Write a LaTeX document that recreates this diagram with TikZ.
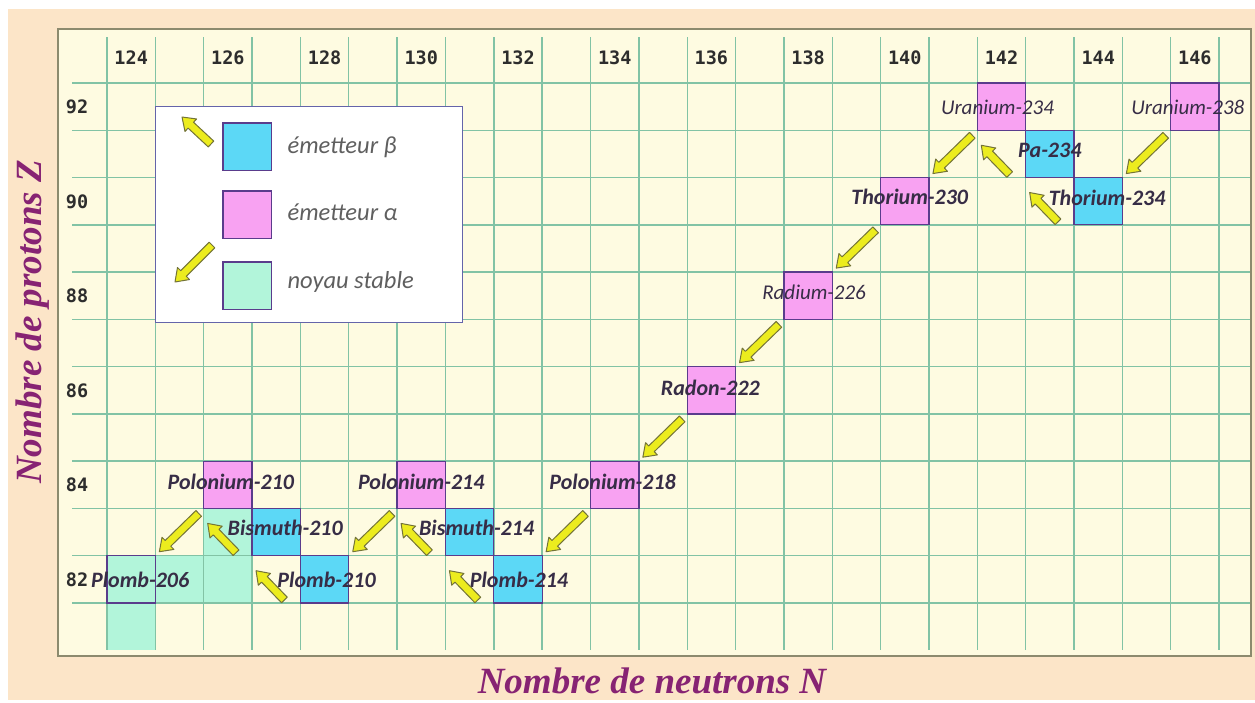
\documentclass[tikz,border=0pt]{standalone}
\usepackage{fontspec}
\usetikzlibrary{calc}
\newfontfamily\labfont{Carlito}
\newfontfamily\numfont{DejaVu Sans Mono}
\newfontfamily\axfont{Liberation Serif}
\definecolor{peach}{RGB}{252,229,200}
\definecolor{cream}{RGB}{254,251,225}
\definecolor{gridc}{RGB}{130,195,165}
\definecolor{framec}{RGB}{140,138,110}
\definecolor{pinkc}{RGB}{248,162,242}
\definecolor{cyanc}{RGB}{92,216,246}
\definecolor{mintc}{RGB}{178,245,218}
\definecolor{sqborder}{RGB}{90,60,140}
\definecolor{arrfill}{RGB}{236,236,30}
\definecolor{arrdraw}{RGB}{115,115,55}
\definecolor{axisc}{RGB}{135,35,115}
\definecolor{labc}{RGB}{55,45,70}
\definecolor{numc}{RGB}{45,45,45}
\definecolor{legtext}{RGB}{95,95,95}
\definecolor{legborder}{RGB}{100,100,170}
\tikzset{
  gridline/.style={draw=gridc, line width=1.4pt},
  nucbox/.style={draw=sqborder, line width=1.3pt, minimum width=48.35pt, minimum height=47.27pt, inner sep=0pt, outer sep=0pt, anchor=north west},
  alphabox/.style={nucbox, fill=pinkc},
  betabox/.style={nucbox, fill=cyanc},
  stablebox/.style={nucbox, fill=mintc},
  lab/.style={font={\labfont\bfseries\itshape\fontsize{22}{26}\selectfont}, text=labc, inner sep=0pt},
  lablight/.style={lab, font={\labfont\itshape\fontsize{21}{24}\selectfont}},
  num/.style={font={\numfont\bfseries\fontsize{18.5}{22}\selectfont}, text=numc, inner sep=0pt},
  axislab/.style={font={\axfont\bfseries\itshape\fontsize{37}{40}\selectfont}, text=axisc, inner sep=0pt},
  legtxt/.style={font={\labfont\itshape\fontsize{24.5}{28}\selectfont}, text=legtext, anchor=west, inner sep=0pt},
  decaystyle/.style={draw=arrdraw, fill=arrfill, line width=1pt, line join=round},
}
\newcommand\nuc[4]{\node[#4] (#1) at ({107+(#2-124)*48.35},{83+(92-#3)*47.27}) {};}
\newcommand\mintcell[2]{\fill[mintc] ({107+(#1-124)*48.35},{83+(92-#2)*47.27}) rectangle ++(48.35,47.27);}
% block arrow from #1 (tail) to #2 (tip)
\newcommand\decay[2]{%
  \draw[decaystyle] let \p1=(#1), \p2=(#2), \n1={atan2(\y2-\y1,\x2-\x1)}, \n2={veclen(\x2-\x1,\y2-\y1)-12pt} in
  ($(\p1)+(\n1+90:4pt)$) -- ($(\p1)+(\n1:\n2)+(\n1+90:4pt)$) -- ($(\p1)+(\n1:\n2)+(\n1+90:8.5pt)$) -- (\p2)
  -- ($(\p1)+(\n1:\n2)+(\n1-90:8.5pt)$) -- ($(\p1)+(\n1:\n2)+(\n1-90:4pt)$) -- ($(\p1)+(\n1-90:4pt)$) -- cycle;}
\begin{document}
\begin{tikzpicture}[x=1pt,y=-1pt]
\useasboundingbox (0,0) rectangle (1255,702);
\fill[white] (0,0) rectangle (1255,702);
\fill[peach] (8,9) rectangle (1255,700);
\fill[cream] (58,29) rectangle (1251,656);
% stable region cells
\mintcell{125}{82}
\mintcell{126}{82}
\mintcell{126}{83}
\mintcell{124}{81}
% grid
\foreach \k in {0,...,23} \draw[gridline] ({107+\k*48.35},37) -- ({107+\k*48.35},650);
\foreach \j in {0,...,11} \draw[gridline] (72,{83+\j*47.27}) -- (1251,{83+\j*47.27});
\draw[framec, line width=2pt] (58,29) rectangle (1251,656);
% axis numbers
\foreach \n in {124,126,...,146} \node[num] (c\n) at ({107+(\n-124)*48.35+24.2},58) {\n};
\foreach \z in {92,90,...,82} \node[num] (r\z) at (77,{83+(92-\z)*47.27+24}) {\z};
% axis titles
\node[axislab, rotate=90] (ytitle) at (33,322) {Nombre de protons Z};
\node[axislab] (xtitle) at (652,681) {Nombre de neutrons N};
% nuclides
\nuc{U238}{146}{92}{alphabox}
\nuc{Th234}{144}{90}{betabox}
\nuc{Pa234}{143}{91}{betabox}
\nuc{U234}{142}{92}{alphabox}
\nuc{Th230}{140}{90}{alphabox}
\nuc{Ra226}{138}{88}{alphabox}
\nuc{Rn222}{136}{86}{alphabox}
\nuc{Po218}{134}{84}{alphabox}
\nuc{Pb214}{132}{82}{betabox}
\nuc{Bi214}{131}{83}{betabox}
\nuc{Po214}{130}{84}{alphabox}
\nuc{Pb210}{128}{82}{betabox}
\nuc{Bi210}{127}{83}{betabox}
\nuc{Po210}{126}{84}{alphabox}
\nuc{Pb206}{124}{82}{stablebox}
% labels
\node[lablight] (lU238) at ($(U238.center)+(-7,1)$) {Uranium-238};
\node[lablight] (lU234) at ($(U234.center)+(-4,1)$) {Uranium-234};
\node[lab] (lPa234) at ($(Pa234.center)+(0,-4)$) {Pa-234};
\node[lab] (lTh230) at ($(Th230.center)+(5,-4)$) {Thorium-230};
\node[lab] (lTh234) at ($(Th234.center)+(9,-3)$) {Thorium-234};
\node[lablight] (lRa226) at ($(Ra226.center)+(6,-3)$) {Radium-226};
\node[lab] (lRn222) at ($(Rn222.center)+(-1,-2)$) {Radon-222};
\node[lab] (lPo218) at ($(Po218.center)+(-2,-3)$) {Polonium-218};
\node[lab] (lPo214) at ($(Po214.center)+(0,-3)$) {Polonium-214};
\node[lab] (lPo210) at ($(Po210.center)+(3,-3)$) {Polonium-210};
\node[lab] (lBi210) at ($(Bi210.center)+(9,-4)$) {Bismuth-210};
\node[lab] (lBi214) at ($(Bi214.center)+(7,-4)$) {Bismuth-214};
\node[lab] (lPb206) at ($(Pb206.center)+(9,1)$) {Plomb-206};
\node[lab] (lPb210) at ($(Pb210.center)+(2,1)$) {Plomb-210};
\node[lab] (lPb214) at ($(Pb214.center)+(1,1)$) {Plomb-214};
% alpha decays
\decay{$(U238.south west)+(-5,5)$}{$(Th234.north east)+(4,-4)$}
\decay{$(U234.south west)+(-5,5)$}{$(Th230.north east)+(4,-4)$}
\decay{$(Th230.south west)+(-5,5)$}{$(Ra226.north east)+(4,-4)$}
\decay{$(Ra226.south west)+(-5,5)$}{$(Rn222.north east)+(4,-4)$}
\decay{$(Rn222.south west)+(-5,5)$}{$(Po218.north east)+(4,-4)$}
\decay{$(Po218.south west)+(-5,5)$}{$(Pb214.north east)+(4,-4)$}
\decay{$(Po214.south west)+(-5,5)$}{$(Pb210.north east)+(4,-4)$}
\decay{$(Po210.south west)+(-5,5)$}{$(Pb206.north east)+(4,-4)$}
% beta decays
\decay{$(Th234.south west)+(-16,-3)$}{$(Pa234.south west)+(4,15)$}
\decay{$(Pa234.south west)+(-16,-3)$}{$(U234.south west)+(4,15)$}
\decay{$(Pb214.south west)+(-16,-3)$}{$(Bi214.south west)+(4,15)$}
\decay{$(Bi214.south west)+(-16,-3)$}{$(Po214.south west)+(4,15)$}
\decay{$(Pb210.south west)+(-16,-3)$}{$(Bi210.south west)+(4,15)$}
\decay{$(Bi210.south west)+(-16,-3)$}{$(Po210.south west)+(4,15)$}
% legend
\node[draw=legborder, fill=white, line width=1.3pt, minimum width=307pt, minimum height=216pt, anchor=north west, inner sep=0pt] (legend) at (155,106) {};
\node[betabox] (legb) at (223,123) {};
\node[alphabox] (lega) at (223,191) {};
\node[stablebox] (legs) at (223,262) {};
\node[legtxt] (tb) at ($(legb.east)+(16,1)$) {émetteur β};
\node[legtxt] (ta) at ($(lega.east)+(16,-2)$) {émetteur α};
\node[legtxt] (ts) at ($(legs.east)+(16,-4)$) {noyau stable};
\coordinate (lbt) at (211,144);
\coordinate (lbh) at (182,117);
\coordinate (lat) at (212,245);
\coordinate (lah) at (175,282);
\decay{lbt}{lbh}
\decay{lat}{lah}
\end{tikzpicture}
\end{document}
